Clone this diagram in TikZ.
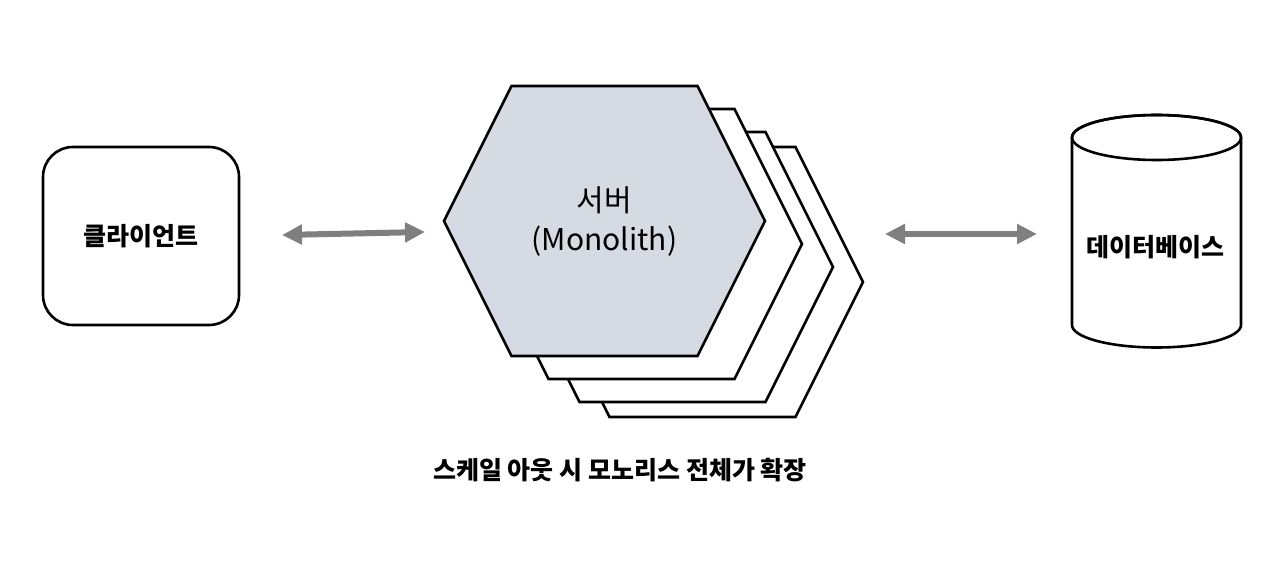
\documentclass[tikz,border=0pt]{standalone}
\usepackage{fontspec}
\setmainfont{Noto Sans CJK KR}
\usetikzlibrary{arrows.meta}
\definecolor{hexfill}{HTML}{D6DAE2}
\definecolor{arrgray}{HTML}{7F7F7F}
\tikzset{
  hexshape/.style={draw=black, line width=2.6pt, line join=miter, fill=white},
  mainhex/.style={hexshape, fill=hexfill},
  boxnode/.style={draw=black, line width=2.6pt, rounded corners=30pt, fill=white,
    minimum width=196pt, minimum height=178pt, font=\fontsize{25}{29}\selectfont\bfseries},
  lbl/.style={font=\fontsize{25}{29}\selectfont\bfseries, inner sep=0pt},
  hextext/.style={font=\fontsize{30}{39}\selectfont, align=center, inner sep=0pt},
  caption/.style={font=\fontsize{25}{29}\selectfont\bfseries, inner sep=0pt},
  arr/.style={draw=arrgray, line width=6pt, {Triangle[length=20pt,width=19pt]}-{Triangle[length=20pt,width=19pt]}},
  dbline/.style={draw=black, line width=2.6pt, fill=white}
}
\newcommand{\hexat}[3]{\path[#1] (#2-93,#3+135) -- (#2+93,#3+135) -- (#2+160.5,#3) -- (#2+93,#3-135) -- (#2-93,#3-135) -- (#2-160.5,#3) -- cycle;}
\begin{document}
\begin{tikzpicture}[x=1pt,y=1pt]
\useasboundingbox (0,0) rectangle (1284,560);
% client
\node[boxnode] (client) at (141,324) {클라이언트};
% server stack
\hexat{hexshape}{702.5}{278}
\hexat{hexshape}{672.5}{293}
\hexat{hexshape}{641.5}{316}
\hexat{mainhex}{604.5}{339}
\node[hextext] (srv) at (604.5,338) {서버\\(Monolith)};
% database
\path[dbline] (1072,422.5) -- (1072,235) arc[start angle=180,end angle=360,x radius=84.5pt,y radius=22.5pt] -- (1241,422.5) arc[start angle=0,end angle=180,x radius=84.5pt,y radius=22.5pt] -- cycle;
\draw[line width=2.6pt] (1156.5,422.5) ellipse[x radius=84.5pt,y radius=22.5pt];
\node[lbl] (db) at (1155,313) {데이터베이스};
% arrows
\coordinate (a1) at (282,325);
\coordinate (a2) at (425,328);
\coordinate (b1) at (885,326);
\coordinate (b2) at (1037,326);
\draw[arr] (a1) -- (a2);
\draw[arr] (b1) -- (b2);
% caption
\node[caption] (cap) at (620,90) {스케일 아웃 시 모노리스 전체가 확장};
\end{tikzpicture}
\end{document}
